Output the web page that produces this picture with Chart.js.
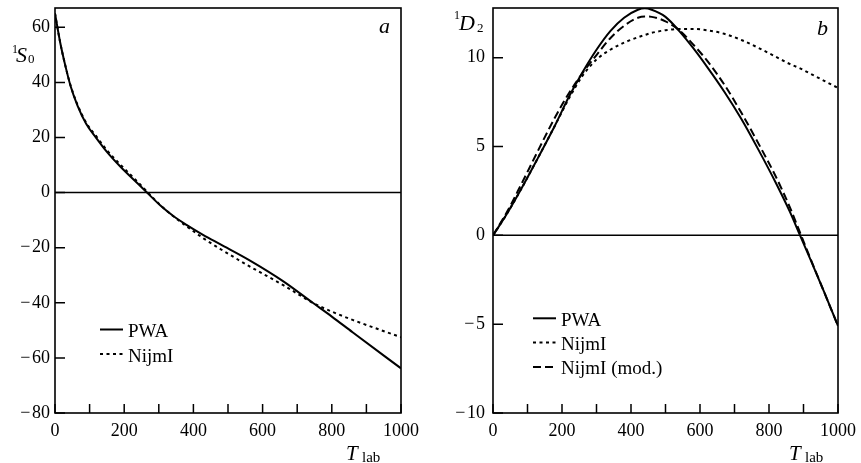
<!DOCTYPE html>
<html>
<head>
<meta charset="utf-8">
<script src="https://cdn.jsdelivr.net/npm/chart.js@4.4.1/dist/chart.umd.min.js"></script>
<style>
  body { margin: 0; background: #fff; }
  #wrap { position: relative; width: 861px; height: 463px; }
  canvas { position: absolute; top: 0; }
  .lbl { position: absolute; font-family: 'Liberation Serif', serif; line-height: 1; color: #000; white-space: nowrap; }
  .it { font-style: italic; }
</style>
</head>
<body>
<div id="wrap">
  <canvas id="chartA" width="430" height="463" style="left:0"></canvas>
  <canvas id="chartB" width="431" height="463" style="left:430px"></canvas>

  <!-- titres des axes et lettres des panneaux -->
  <span class="lbl" style="left:12px;top:43px;font-size:12px">1</span>
  <span class="lbl it" style="left:16px;top:43.6px;font-size:22px">S</span>
  <span class="lbl" style="left:28px;top:52px;font-size:13px">0</span>
  <span class="lbl it" style="left:379px;top:14.6px;font-size:22px">a</span>
  <span class="lbl it" style="left:346px;top:443.3px;font-size:21px">T</span>
  <span class="lbl" style="left:362px;top:450.3px;font-size:15px">lab</span>

  <span class="lbl" style="left:454px;top:8.5px;font-size:12px">1</span>
  <span class="lbl it" style="left:459px;top:11.6px;font-size:22px">D</span>
  <span class="lbl" style="left:477px;top:21px;font-size:13px">2</span>
  <span class="lbl it" style="left:817px;top:16.6px;font-size:22px">b</span>
  <span class="lbl it" style="left:789px;top:443.3px;font-size:21px">T</span>
  <span class="lbl" style="left:805px;top:450.3px;font-size:15px">lab</span>
</div>
<script>
// Panneau a : onde 1S0
const tA = [0, 15, 30, 45, 65, 90, 120, 150, 190, 230, 265, 303, 342, 380, 429, 477, 560, 660, 745, 800, 860, 1000];
const pwaA = [65, 54.5, 46, 38.7, 31.6, 25, 19.7, 14.8, 9.3, 4.4, 0.1, -4.5, -8.5, -11.7, -15.4, -18.7, -24.4, -32.2, -40.0, -45.0, -50.7, -63.8];
const nijmA = [65, 54.5, 46, 38.9, 31.9, 25.4, 20.3, 15.4, 10.0, 5.0, 0.5, -4.4, -8.6, -12.2, -16.6, -20.4, -26.6, -33.6, -40.0, -43.2, -46.2, -52.5];

// Panneau b : onde 1D2
const tB = [0, 40, 80, 130, 180, 220, 260, 300, 340, 380, 420, 440, 460, 500, 540, 580, 620, 670, 720, 770, 820, 860, 890, 920, 960, 1000];
const pwaB = [0, 1.2, 2.55, 4.35, 6.2, 7.8, 9.2, 10.45, 11.5, 12.25, 12.7, 12.78, 12.7, 12.3, 11.5, 10.55, 9.5, 8.1, 6.55, 4.8, 2.95, 1.35, 0, -1.35, -3.2, -5.1];
const nijmB = [0, 1.2, 2.55, 4.35, 6.2, 7.7, 9.0, 9.9, 10.45, 10.85, 11.15, 11.28, 11.4, 11.55, 11.62, 11.62, 11.55, 11.35, 11.0, 10.55, 10.05, 9.65, 9.4, 9.1, 8.7, 8.3];
const nijmModB = [0, 1.3, 2.8, 4.75, 6.65, 8.0, 9.15, 10.15, 11.1, 11.8, 12.25, 12.32, 12.3, 12.05, 11.55, 10.75, 9.85, 8.5, 6.9, 5.15, 3.3, 1.6, 0.15, -1.3, -3.2, -5.1];

const labels = ['PWA', 'NijmI', 'NijmI (mod.)'];
const FONT = 'Liberation Serif';

function pts(xs, ys) {
    return xs.map((x, i) => ({ x: x, y: ys[i] }));
}

function fmtMinus(v) {
    return v < 0 ? '\u2212\u200a' + Math.abs(v) : String(v);
}

// cadre, ticks vers l'intérieur, ligne du zéro et légende
const decor = {
    id: 'decor',
    beforeDatasetsDraw(chart) {
        const { ctx, chartArea: a, scales } = chart;
        const y0 = scales.y.getPixelForValue(0);
        ctx.save();
        ctx.strokeStyle = '#000';
        ctx.lineWidth = 1.5;
        ctx.beginPath();
        ctx.moveTo(a.left, y0);
        ctx.lineTo(a.right, y0);
        ctx.stroke();
        ctx.restore();
    },
    afterDatasetsDraw(chart, args, opts) {
        const { ctx, chartArea: a, scales } = chart;
        ctx.save();
        ctx.strokeStyle = '#000';
        ctx.lineWidth = 1.6;
        ctx.strokeRect(a.left, a.top, a.right - a.left, a.bottom - a.top);

        ctx.lineWidth = 1.5;
        ctx.beginPath();
        scales.x.ticks.forEach(t => {
            const px = scales.x.getPixelForValue(t.value);
            ctx.moveTo(px, a.bottom);
            ctx.lineTo(px, a.bottom - 9);
        });
        scales.y.ticks.forEach(t => {
            const py = scales.y.getPixelForValue(t.value);
            ctx.moveTo(a.left, py);
            ctx.lineTo(a.left + 10, py);
        });
        ctx.stroke();

        // légende
        ctx.font = '19px "' + FONT + '"';
        ctx.fillStyle = '#000';
        ctx.textBaseline = 'alphabetic';
        chart.data.datasets.forEach((ds, i) => {
            const ly = opts.y + i * opts.gap;
            ctx.setLineDash(ds.borderDash || []);
            ctx.lineWidth = ds.borderWidth;
            ctx.beginPath();
            ctx.moveTo(opts.x, ly);
            ctx.lineTo(opts.x + 23, ly);
            ctx.stroke();
            ctx.setLineDash([]);
            ctx.fillText(ds.label, opts.x + 28, ly + 7.5);
        });
        ctx.restore();
    }
};

function makeOptions(yMin, yMax, yStep, yWidth, yPad, padRight, legend) {
    return {
        responsive: false,
        animation: false,
        layout: { padding: { top: 8, right: padRight, bottom: 0, left: 0 } },
        plugins: {
            legend: { display: false },
            tooltip: { enabled: false },
            decor: legend
        },
        elements: { point: { radius: 0 } },
        scales: {
            x: {
                type: 'linear',
                min: 0,
                max: 1000,
                grid: { display: false, drawTicks: false },
                border: { display: false },
                ticks: {
                    stepSize: 100,
                    autoSkip: false,
                    maxRotation: 0,
                    padding: 7,
                    color: '#000',
                    font: { family: FONT, size: 18 },
                    callback: v => (v % 200 === 0 ? String(v) : '')
                },
                afterFit: s => { s.height = 50; s.paddingLeft = 0; s.paddingRight = 0; }
            },
            y: {
                type: 'linear',
                min: yMin,
                max: yMax,
                grid: { display: false, drawTicks: false },
                border: { display: false },
                ticks: {
                    stepSize: yStep,
                    includeBounds: false,
                    padding: yPad,
                    color: '#000',
                    font: { family: FONT, size: 18 },
                    callback: v => fmtMinus(v)
                },
                afterFit: s => { s.width = yWidth; s.paddingTop = 0; s.paddingBottom = 0; }
            }
        }
    };
}

new Chart(document.getElementById('chartA'), {
    type: 'line',
    data: {
        datasets: [
            { label: labels[0], data: pts(tA, pwaA), borderColor: '#000', borderWidth: 2, cubicInterpolationMode: 'monotone' },
            { label: labels[1], data: pts(tA, nijmA), borderColor: '#000', borderWidth: 2, borderDash: [3, 3.5], cubicInterpolationMode: 'monotone' }
        ]
    },
    options: makeOptions(-80, 67, 20, 55, 5, 29, { x: 100, y: 329.5, gap: 24.5 }),
    plugins: [decor]
});

new Chart(document.getElementById('chartB'), {
    type: 'line',
    data: {
        datasets: [
            { label: labels[0], data: pts(tB, pwaB), borderColor: '#000', borderWidth: 2, cubicInterpolationMode: 'monotone' },
            { label: labels[1], data: pts(tB, nijmB), borderColor: '#000', borderWidth: 2, borderDash: [3, 3.5], cubicInterpolationMode: 'monotone' },
            { label: labels[2], data: pts(tB, nijmModB), borderColor: '#000', borderWidth: 2, borderDash: [8, 4], cubicInterpolationMode: 'monotone' }
        ]
    },
    options: makeOptions(-10, 12.8, 5, 63, 8, 23, { x: 103, y: 318.3, gap: 24.3 }),
    plugins: [decor]
});
</script>
</body>
</html>
